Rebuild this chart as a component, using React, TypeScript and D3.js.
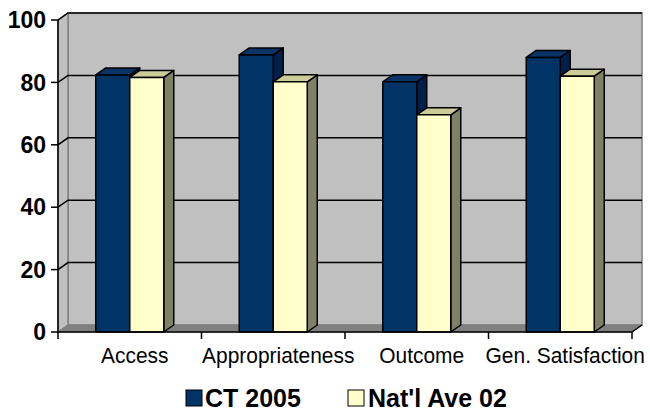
import React from "react";
import * as d3 from "d3";

const categories = ["Access", "Appropriateness", "Outcome", "Gen. Satisfaction"];
const seriesNames = ["CT 2005", "Nat'l Ave 02"];
const ct2005 = [82.4, 88.8, 80.2, 88.0];
const natlAve02 = [81.6, 80.2, 69.6, 82.0];
const yTicks = [0, 20, 40, 60, 80, 100];

const W = 650;
const H = 412;
const X0 = 58;
const X1 = 632;
const Y0 = 332;
const Y1 = 20;
const DX = 10;
const DY = -7;
const BAR_W = 34;

const FONT = "Arial, 'Liberation Sans', Helvetica, sans-serif";

const series = [
  { name: seriesNames[0], values: ct2005, front: "#003366", top: "#0b3466", side: "#00204a" },
  { name: seriesNames[1], values: natlAve02, front: "#FFFFCC", top: "#CCCC99", side: "#808066" },
];

export default function App() {
  const x = d3.scaleBand<string>().domain(categories).range([X0, X1]).padding(0);
  const y = d3.scaleLinear().domain([0, 100]).range([Y0, Y1]);
  const pts = (arr: [number, number][]) => arr.map((p) => p.join(",")).join(" ");

  const bars: React.ReactNode[] = [];
  categories.forEach((c, ci) => {
    const center = (x(c) as number) + x.bandwidth() / 2;
    series.forEach((s, si) => {
      const xl = center - BAR_W + si * BAR_W;
      const xr = xl + BAR_W;
      const yt = y(s.values[ci]);
      const yb = y(0);
      bars.push(
        <g key={`${ci}-${si}`} stroke="#000" strokeWidth={1.5} strokeLinejoin="round">
          <polygon points={pts([[xr, yb], [xr + DX, yb + DY], [xr + DX, yt + DY], [xr, yt]])} fill={s.side} />
          <polygon points={pts([[xl, yt], [xl + DX, yt + DY], [xr + DX, yt + DY], [xr, yt]])} fill={s.top} />
          <rect x={xl} y={yt} width={BAR_W} height={yb - yt} fill={s.front} />
        </g>
      );
    });
  });

  return (
    <svg width={W} height={H} style={{ position: "absolute", left: 0, top: 0 }} fontFamily={FONT}>
      <rect width={W} height={H} fill="#fff" />
      {/* back wall */}
      <polygon
        points={pts([[X0 + DX, Y1 + DY], [X1 + DX, Y1 + DY], [X1 + DX, Y0 + DY], [X0 + DX, Y0 + DY]])}
        fill="#C0C0C0"
        stroke="#808080"
        strokeWidth={1.5}
      />
      {/* left wall */}
      <polygon
        points={pts([[X0, Y1], [X0 + DX, Y1 + DY], [X0 + DX, Y0 + DY], [X0, Y0]])}
        fill="#C0C0C0"
        stroke="#808080"
        strokeWidth={1.5}
      />
      {/* floor */}
      <polygon
        points={pts([[X0, Y0], [X0 + DX, Y0 + DY], [X1 + DX, Y0 + DY], [X1, Y0]])}
        fill="#808080"
        stroke="#808080"
        strokeWidth={1}
      />
      {/* gridlines */}
      {yTicks.filter((t) => t > 0).map((t) => (
        <g key={t} stroke="#000" strokeWidth={1.5} fill="none">
          <polyline points={pts([[X0, y(t)], [X0 + DX, y(t) + DY], [X1 + DX, y(t) + DY]])} />
        </g>
      ))}
      {bars}
      {/* axes */}
      <line x1={X0} x2={X0} y1={Y1} y2={Y0} stroke="#000" strokeWidth={1.5} />
      <line x1={X0} x2={X1} y1={Y0} y2={Y0} stroke="#000" strokeWidth={1.5} />
      <line x1={X1} x2={X1 + DX} y1={Y0} y2={Y0 + DY} stroke="#000" strokeWidth={1.5} />
      {yTicks.map((t) => (
        <g key={t}>
          <line x1={X0 - 7} x2={X0} y1={y(t)} y2={y(t)} stroke="#000" strokeWidth={1.5} />
          <text x={46} y={y(t)} dy="0.36em" textAnchor="end" fontSize={23} fontWeight="bold" fill="#000">
            {t}
          </text>
        </g>
      ))}
      {categories.map((c, i) => (
        <line key={`t${i}`} x1={x(c) as number} x2={x(c) as number} y1={Y0} y2={Y0 + 7} stroke="#000" strokeWidth={1.5} />
      ))}
      <line x1={X1} x2={X1} y1={Y0} y2={Y0 + 7} stroke="#000" strokeWidth={1.5} />
      {categories.map((c) => (
        <text
          key={c}
          transform={`translate(${(x(c) as number) + x.bandwidth() / 2 + DX / 2},363) scale(0.93,1)`}
          textAnchor="middle"
          fontSize={22.5}
          fill="#000"
        >
          {c}
        </text>
      ))}
      {/* legend */}
      <g>
        <rect x={186} y={390} width={16} height={16} fill={series[0].front} stroke="#000" strokeWidth={1} />
        <text x={205} y={407} fontSize={25} fontWeight="bold" fill="#000">{series[0].name}</text>
        <rect x={348} y={390} width={16} height={16} fill={series[1].front} stroke="#000" strokeWidth={1} />
        <text x={368} y={407} fontSize={25} fontWeight="bold" fill="#000">{series[1].name}</text>
      </g>
    </svg>
  );
}
